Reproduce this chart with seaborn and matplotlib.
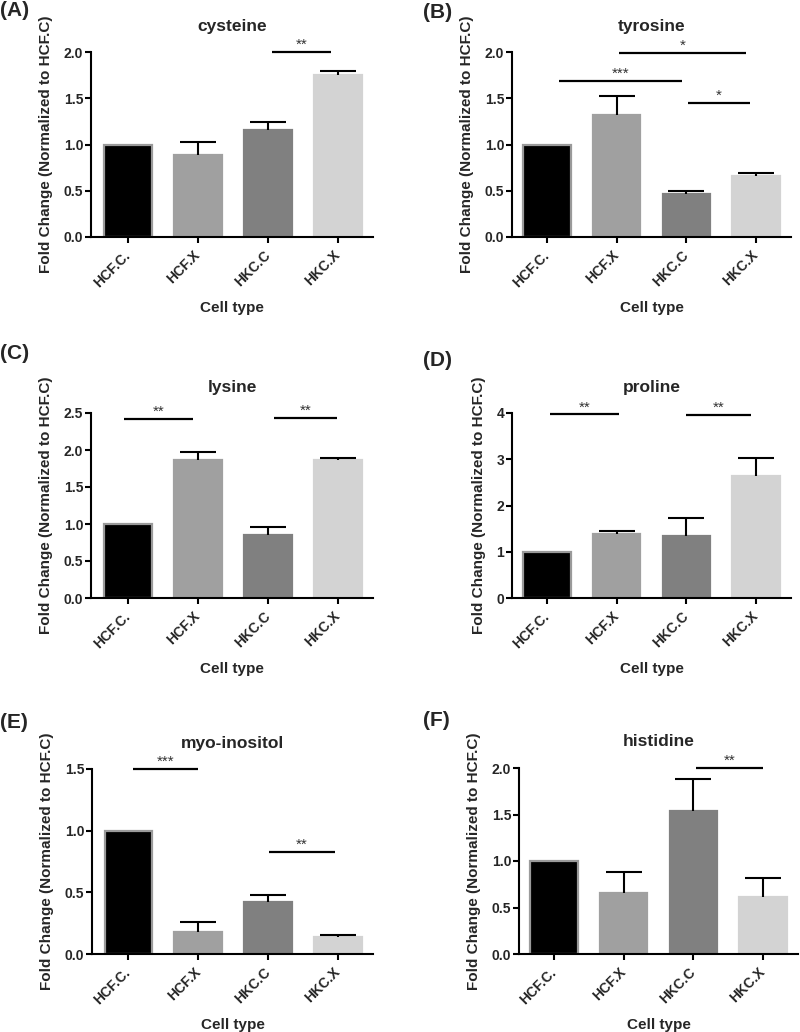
import matplotlib
matplotlib.use("Agg")
import matplotlib.pyplot as plt
import seaborn as sns
import pandas as pd
import numpy as np

# ---------------- data ----------------
categories = ["HCF.C.", "HCF.X", "HKC.C", "HKC.X"]
bar_colors = ["#000000", "#a0a0a0", "#808080", "#d3d3d3"]
edge_colors = ["#9a9a9a", "#a0a0a0", "#808080", "#d3d3d3"]

panel_letters = ["(A)", "(B)", "(C)", "(D)", "(E)", "(F)"]
titles = ["cysteine", "tyrosine", "lysine", "proline", "myo-inositol", "histidine"]

cysteine_mean = [1.0, 0.89, 1.16, 1.75]
cysteine_err = [0.0, 0.14, 0.08, 0.045]
tyrosine_mean = [1.0, 1.32, 0.47, 0.66]
tyrosine_err = [0.0, 0.20, 0.03, 0.03]
lysine_mean = [1.0, 1.87, 0.85, 1.87]
lysine_err = [0.0, 0.10, 0.11, 0.02]
proline_mean = [1.0, 1.39, 1.35, 2.64]
proline_err = [0.0, 0.06, 0.37, 0.39]
inositol_mean = [1.0, 0.18, 0.42, 0.14]
inositol_err = [0.0, 0.08, 0.06, 0.015]
histidine_mean = [1.0, 0.66, 1.54, 0.61]
histidine_err = [0.0, 0.22, 0.34, 0.21]

means = [cysteine_mean, tyrosine_mean, lysine_mean, proline_mean, inositol_mean, histidine_mean]
errs = [cysteine_err, tyrosine_err, lysine_err, proline_err, inositol_err, histidine_err]

y_max = [2.0, 2.0, 2.5, 4.0, 1.5, 2.0]
y_step = [0.5, 0.5, 0.5, 1.0, 0.5, 0.5]
y_fmt = ["{:.1f}", "{:.1f}", "{:.1f}", "{:.0f}", "{:.1f}", "{:.1f}"]

# significance brackets: (x_start, x_end, height, label)
sig_cysteine = [(2.05, 2.90, 2.0, "**")]
sig_tyrosine = [(0.17, 1.94, 1.69, "***"), (1.04, 2.86, 1.99, "*"), (2.03, 2.91, 1.45, "*")]
sig_lysine = [(-0.06, 0.93, 2.42, "**"), (2.09, 2.99, 2.43, "**")]
sig_proline = [(0.04, 1.03, 3.97, "**"), (2.00, 2.93, 3.96, "**")]
sig_inositol = [(0.07, 0.99, 1.50, "***"), (2.01, 2.96, 0.83, "**")]
sig_histidine = [(2.04, 3.00, 2.0, "**")]
sigs = [sig_cysteine, sig_tyrosine, sig_lysine, sig_proline, sig_inositol, sig_histidine]

xlabel = "Cell type"
ylabel = "Fold Change (Normalized to HCF.C)"

# ---------------- layout (pixels) ----------------
W, H = 800, 1032
# left, right, top, bottom in pixels
axes_px = [
    (91, 373, 52, 237),
    (512, 791, 52, 237),
    (91, 373, 413, 598),
    (512, 791, 413, 598),
    (92, 373, 769, 954),
    (519, 798, 768, 954),
]
xlims = [(-0.53, 3.5), (-0.5, 3.5), (-0.53, 3.5), (-0.5, 3.5), (-0.52, 3.5), (-0.5, 3.5)]
letter_px = [(0, 11), (423, 12), (0, 354), (423, 361), (0, 723), (423, 720)]

sns.set_theme(style="ticks")
plt.rcParams["font.family"] = ["Liberation Sans", "DejaVu Sans"]
plt.rcParams["font.weight"] = "bold"
plt.rcParams["axes.labelweight"] = "bold"

fig = plt.figure(figsize=(W / 100, H / 100), dpi=100)
fig.patch.set_facecolor("white")

for i in range(6):
    l, r, t, b = axes_px[i]
    ax = fig.add_axes([l / W, 1 - b / H, (r - l) / W, (b - t) / H])
    df = pd.DataFrame({xlabel: categories, "value": means[i]})
    sns.barplot(data=df, x=xlabel, y="value", hue=xlabel, order=categories,
                hue_order=categories, palette=bar_colors, saturation=1,
                width=0.68, errorbar=None, legend=False, ax=ax)
    for patch, ec in zip(ax.patches, edge_colors):
        patch.set_edgecolor(ec)
        patch.set_linewidth(1.6)
    m = np.array(means[i])
    e = np.array(errs[i])
    idx = np.where(e > 0)[0]
    _, caps, _ = ax.errorbar(idx, m[idx], yerr=[np.zeros(len(idx)), e[idx]], fmt="none",
                             ecolor="black", elinewidth=1.5, capsize=13, capthick=1.5,
                             zorder=3)
    # keep only the upper caps (GraphPad style "mean + SEM")
    if len(caps) == 2:
        caps[0].set_visible(False)

    ax.set_xlim(*xlims[i])
    ax.set_ylim(0, y_max[i])
    ticks = np.arange(0, y_max[i] + 1e-9, y_step[i])
    ax.set_yticks(ticks)
    ax.set_yticklabels([y_fmt[i].format(v) for v in ticks], fontsize=10, fontweight="bold")
    ax.set_xticks(range(4))
    ax.set_xticklabels(categories, rotation=45, ha="right", va="center",
                       rotation_mode="anchor", fontsize=10, fontweight="bold")
    for sp in ["top", "right"]:
        ax.spines[sp].set_visible(False)
    for sp in ["left", "bottom"]:
        ax.spines[sp].set_linewidth(1.5)
        ax.spines[sp].set_color("black")
    ax.tick_params(axis="both", direction="out", length=4.5, width=1.5, color="black")
    ax.tick_params(axis="y", pad=1)
    ax.tick_params(axis="x", pad=7)
    ax.set_xlabel(xlabel, fontsize=11, fontweight="bold", labelpad=8)
    ax.set_ylabel(ylabel, fontsize=11, fontweight="bold", labelpad=8)

    ax.text(0.5, 1.14, titles[i], transform=ax.transAxes, ha="center", va="center",
            fontsize=12.5, fontweight="bold")

    for (x1, x2, yv, lab) in sigs[i]:
        ax.plot([x1, x2], [yv, yv], color="black", lw=1.6, clip_on=False,
                solid_capstyle="butt", zorder=4)
        ax.text((x1 + x2) / 2, yv, lab, ha="center", va="bottom", fontsize=11,
                fontweight="normal", color="#333333", clip_on=False)

    lx, ly = letter_px[i]
    fig.text(lx / W, 1 - ly / H, panel_letters[i], ha="left", va="center",
             fontsize=15, fontweight="bold")

fig.savefig("out.png", dpi=100, facecolor="white")
